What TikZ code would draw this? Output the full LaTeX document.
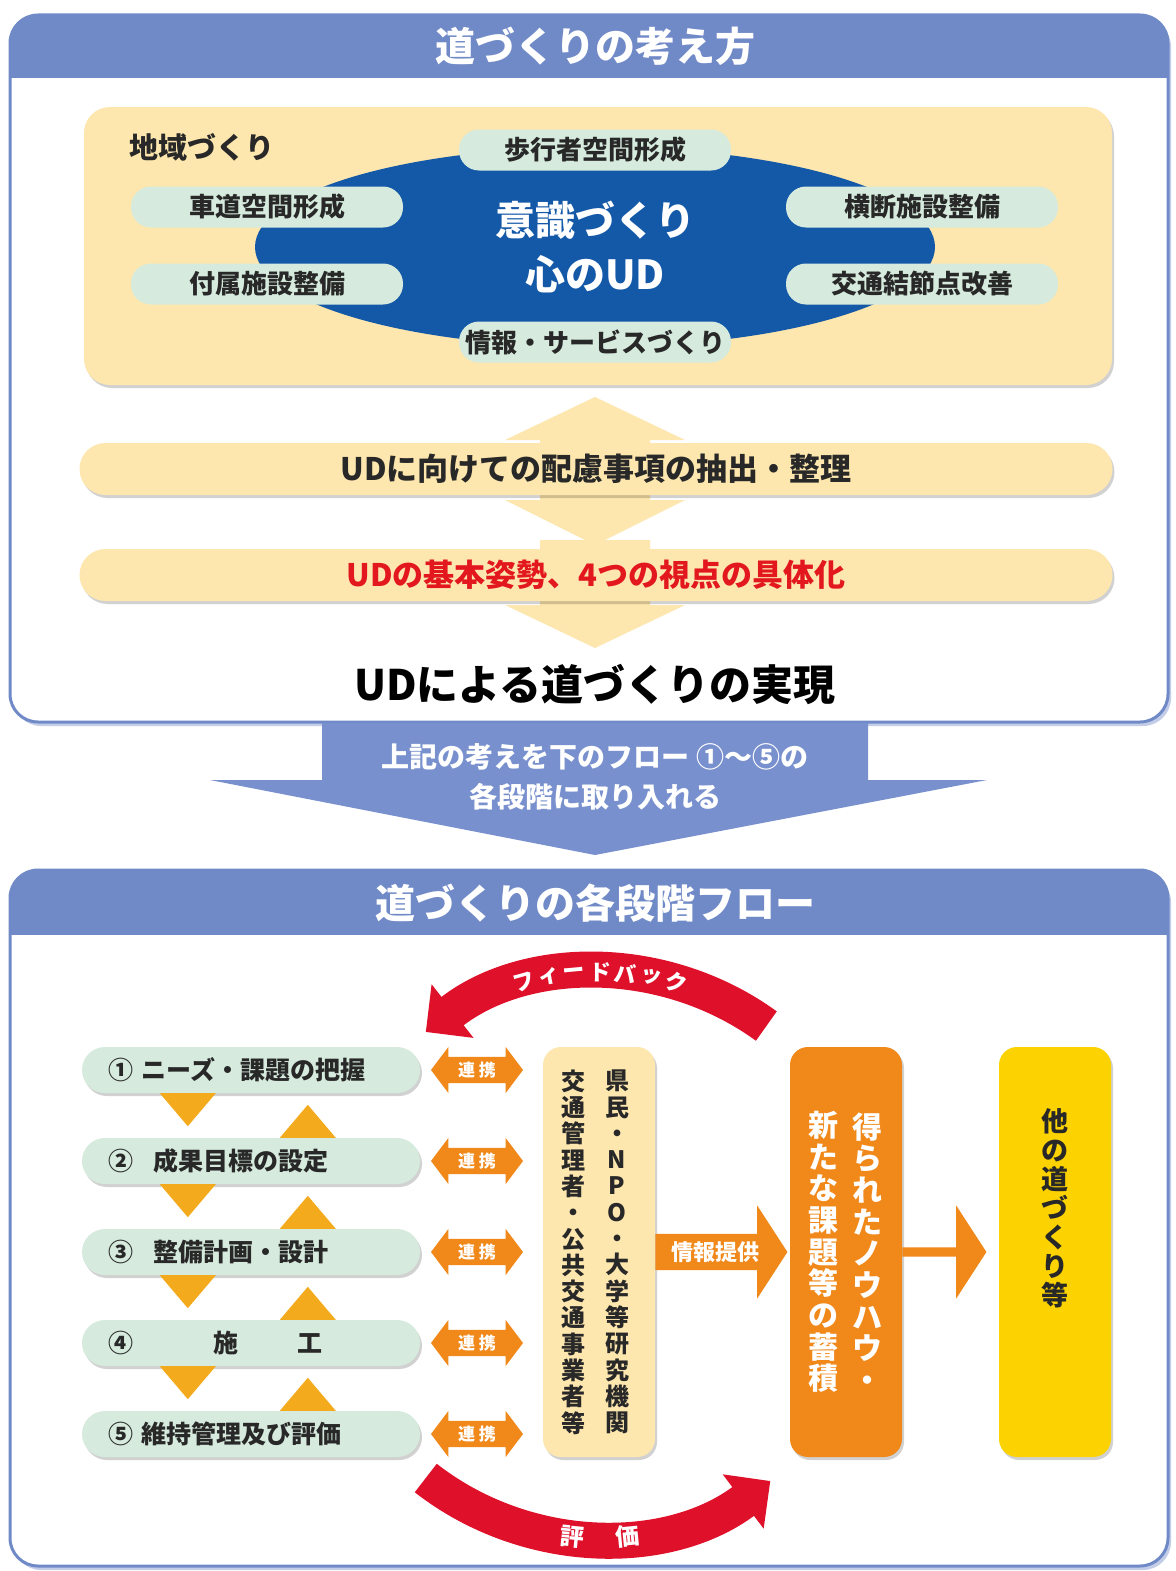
\documentclass[tikz,border=0pt]{standalone}
\usepackage{fontspec}
\setmainfont{Noto Sans CJK JP}
\usetikzlibrary{shapes.geometric, shapes.arrows, arrows.meta, shadows}

\definecolor{hdrblue}{RGB}{112,137,199}
\definecolor{arrblue}{RGB}{120,144,205}
\definecolor{beige}{RGB}{253,231,174}
\definecolor{udblue}{RGB}{20,88,168}
\definecolor{mint}{RGB}{214,235,222}
\definecolor{linkorange}{RGB}{240,136,26}
\definecolor{triorange}{RGB}{243,170,28}
\definecolor{gold}{RGB}{252,210,0}
\definecolor{arcred}{RGB}{222,16,42}
\definecolor{udred}{RGB}{226,24,30}
\definecolor{ink}{RGB}{40,40,40}

\newcommand{\jpsize}[1]{\fontsize{#1}{#1}\selectfont\bfseries}

\begin{document}
\begin{tikzpicture}[x=1pt, y=1pt]
\tikzset{sheet/.style={rounded corners=28, fill=white, drop shadow={shadow xshift=3pt, shadow yshift=-4pt, fill=hdrblue!70, opacity=0.6}}}
\tikzset{rim/.style={rounded corners=28, draw=hdrblue, line width=3}}
\tikzset{headline/.style={text=white, font=\jpsize{40}}}
\tikzset{softshadow/.style={drop shadow={shadow xshift=2pt, shadow yshift=-3pt, fill=black, opacity=0.18}}}
\tikzset{theme/.style={fill=mint, rounded corners=20, minimum width=272, minimum height=41, inner sep=0, text=ink, font=\jpsize{26}}}
\tikzset{band/.style={fill=beige, rounded corners=26, minimum width=1033, minimum height=52, softshadow, font=\jpsize{31}}}
\tikzset{stage/.style={fill=mint, rounded corners=23, minimum width=338, minimum height=46, inner xsep=26, text width=286, align=left, softshadow, text=ink, font=\jpsize{25}}}
\tikzset{liaison/.style={double arrow, fill=linkorange, minimum height=92, minimum width=46, double arrow head extend=7, double arrow tip angle=106, inner sep=1, text=white, font=\jpsize{17}}}
\tikzset{pillar/.style={rounded corners=18, minimum width=112, minimum height=410, softshadow}}
\tikzset{tatecol/.style={align=center, inner sep=0}}
\tikzset{handoff/.style={single arrow, fill=linkorange, minimum width=93, single arrow head extend=20, single arrow tip angle=114, inner sep=2, anchor=west, text=white, font=\jpsize{22}}}
\tikzset{tri/.style={fill=triorange}}
\tikzset{turnarc/.style={draw=arcred, line width=36, -{Triangle[length=34pt, width=66pt]}}}
\tikzset{arcchar/.style={inner sep=0, text=white, font=\jpsize{22}}}

\useasboundingbox (0,0) rectangle (1175,-1571);

% upper panel
\fill[sheet] (10,-15) rectangle (1168,-722);
\begin{scope}
\clip[rounded corners=28] (10,-15) rectangle (1168,-722);
\fill[hdrblue] (10,-15) rectangle (1168,-78);
\end{scope}
\draw[rim] (10,-15) rectangle (1168,-722);
\node[headline] (title1) at (595,-46) {道づくりの考え方};

\node[fill=beige, rounded corners=26, minimum width=1028, minimum height=278, softshadow] (region) at (598,-246) {};
\node[anchor=west, text=ink, font=\jpsize{29}] (regionlabel) at (126,-147) {地域づくり};
\node[ellipse, fill=udblue, minimum width=680, minimum height=200, inner sep=0, align=center, text=white, font=\fontsize{40}{54}\selectfont\bfseries] (core) at (595,-247) {意識づくり\\心のUD};
\node[theme] (walk) at (595,-150) {歩行者空間形成};
\node[theme] (road) at (267,-207) {車道空間形成};
\node[theme] (fitting) at (267,-284) {付属施設整備};
\node[theme] (crossing) at (922,-207) {横断施設整備};
\node[theme] (hubfix) at (922,-284) {交通結節点改善};
\node[theme] (service) at (595,-342) {情報・サービスづくり};

\fill[beige] (595,-397) -- (685,-440) -- (650,-440) -- (650,-500) -- (685,-500) -- (595,-545) -- (505,-500) -- (540,-500) -- (540,-440) -- (505,-440) -- cycle;
\fill[beige] (540,-540) -- (650,-540) -- (650,-605) -- (685,-605) -- (595,-648) -- (505,-605) -- (540,-605) -- cycle;
\node[band, text=ink] (extract) at (596,-469) {UDに向けての配慮事項の抽出・整理};
\node[band, text=udred] (stance) at (596,-575) {UDの基本姿勢、4つの視点の具体化};
\node[text=black, font=\jpsize{42}] (goal) at (595,-685) {UDによる道づくりの実現};

% link between panels
\fill[arrblue] (322,-723) -- (868,-723) -- (868,-780) -- (987,-780) -- (595,-855) -- (210,-780) -- (322,-780) -- cycle;
\node[text=white, font=\jpsize{28}] (carry1) at (595,-757) {上記の考えを下のフロー ①～⑤の};
\node[text=white, font=\jpsize{28}] (carry2) at (595,-797) {各段階に取り入れる};

% lower panel
\fill[sheet] (10,-870) rectangle (1168,-1566);
\begin{scope}
\clip[rounded corners=28] (10,-870) rectangle (1168,-1566);
\fill[hdrblue] (10,-870) rectangle (1168,-935);
\end{scope}
\draw[rim] (10,-870) rectangle (1168,-1566);
\node[headline] (title2) at (595,-903) {道づくりの各段階フロー};

\coordinate (hub) at (600,-1255);
\draw[turnarc] ([shift={(54:283pt)}]hub) arc[start angle=54, end angle=128, radius=283pt];
\draw[turnarc] ([shift={(232:283pt)}]hub) arc[start angle=232, end angle=307, radius=283pt];
\foreach \c [count=\i] in {フ,ィ,ー,ド,バ,ッ,ク}
  \node[arcchar, rotate={5.2*(4-\i)}] (fb\i) at ([shift={({90+5.2*(4-\i)}:283pt)}]hub) {\c};
\node[arcchar, font=\jpsize{24}, rotate=-5.6] (ev1) at ([shift={(264.4:283pt)}]hub) {評};
\node[arcchar, font=\jpsize{24}, rotate=5.6] (ev2) at ([shift={(275.6:283pt)}]hub) {価};

\node[stage] (s1) at (251,-1070) {① ニーズ・課題の把握};
\node[stage] (s2) at (251,-1161) {②\hspace{0.8em}成果目標の設定};
\node[stage] (s3) at (251,-1252) {③\hspace{0.8em}整備計画・設計};
\node[stage] (s4) at (251,-1343) {④\hspace{3.2em}施\hspace{2.4em}工};
\node[stage] (s5) at (251,-1434) {⑤ 維持管理及び評価};
\foreach \a/\b in {1/2,2/3,3/4,4/5} {
  \fill[tri] ([xshift=78]s\a.south west) -- ([xshift=134]s\a.south west) -- ([xshift=106,yshift=-33]s\a.south west) -- cycle;
  \fill[tri] ([xshift=198]s\b.north west) -- ([xshift=254]s\b.north west) -- ([xshift=226,yshift=33]s\b.north west) -- cycle;
}
\foreach \k/\y in {1/1070,2/1161,3/1252,4/1343,5/1434}
  \node[liaison] (r\k) at (477,-\y) {連 携};

\node[pillar, fill=beige] (people) at (599,-1252) {};
\node[tatecol, text=ink, font=\fontsize{24}{26.3}\selectfont\bfseries] (peopleA) at ([xshift=18]people.center) {県\\民\\・\\N\\P\\O\\・\\大\\学\\等\\研\\究\\機\\関};
\node[tatecol, text=ink, font=\fontsize{24}{26.3}\selectfont\bfseries] (peopleB) at ([xshift=-26]people.center) {交\\通\\管\\理\\者\\・\\公\\共\\交\\通\\事\\業\\者\\等};

\node[pillar, fill=linkorange] (know) at (846,-1252) {};
\node[tatecol, text=white, font=\fontsize{30}{31.7}\selectfont\bfseries] (knowA) at ([xshift=21]know.center) {得\\ら\\れ\\た\\ノ\\ウ\\ハ\\ウ\\・};
\node[tatecol, text=white, font=\fontsize{30}{31.7}\selectfont\bfseries] (knowB) at ([xshift=-23]know.center) {新\\た\\な\\課\\題\\等\\の\\蓄\\積};

\node[pillar, fill=gold] (other) at (1055,-1252) {};
\node[tatecol, text=ink, font=\fontsize{27}{29}\selectfont\bfseries] (otherA) at ([yshift=44]other.center) {他\\の\\道\\づ\\く\\り\\等};

\node[handoff, minimum height=132] (supply) at (people.east) {情報提供};
\node[handoff, minimum height=84] (forward) at (know.east) {};
\end{tikzpicture}
\end{document}
